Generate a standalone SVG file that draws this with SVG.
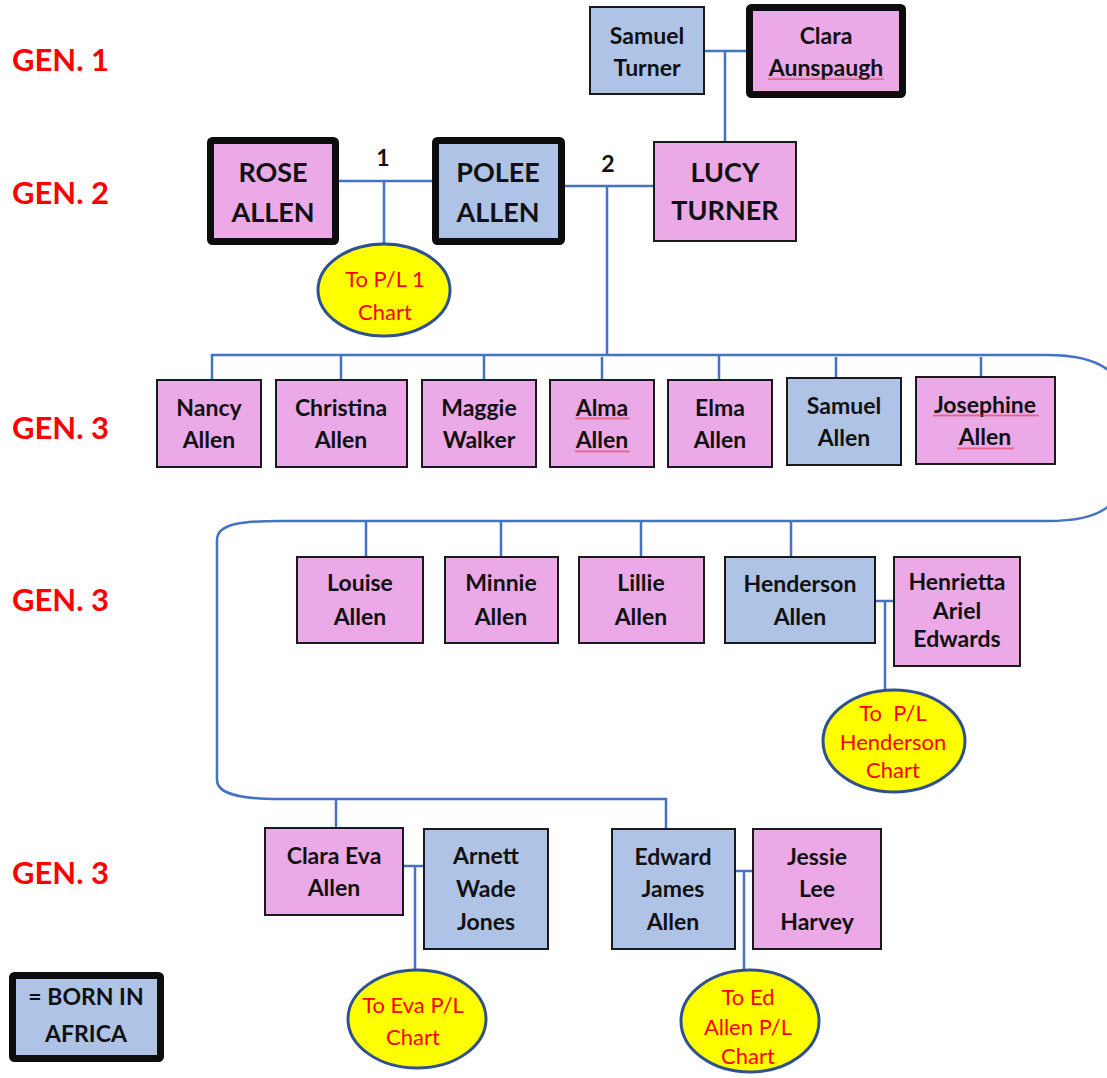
<svg xmlns="http://www.w3.org/2000/svg" width="1107" height="1078" viewBox="0 0 1107 1078">
  <defs>
    <pattern id="squiggle" width="4" height="3" patternUnits="userSpaceOnUse">
      <path d="M0 2.5 L1 0.5 L2 2.5 L3 0.5 L4 2.5" fill="none" stroke="#e03030" stroke-width="0.7"/>
    </pattern>
  </defs>
  <style>
    .f { stroke: #1a1a1a; stroke-width: 2; }
    .thick { stroke: #0d0d0d; stroke-width: 7; }
    .blue { fill: #aec3e5; }
    .pink { fill: #eba9e7; }
    .oval { fill: #ffff00; stroke: #2f528f; stroke-width: 3; }
    .t { font-family: Lato, "Open Sans", "Liberation Sans", sans-serif; font-weight: 700; fill: #111; text-anchor: middle; }
    .s22 { font-size: 23px; }
    .s28 { font-size: 27px; }
    .o { font-family: Lato, "Open Sans", "Liberation Sans", sans-serif; font-size: 22px; fill: #ff0000; text-anchor: middle; }
    .gen { font-family: Lato, "Open Sans", "Liberation Sans", sans-serif; font-weight: 700; font-size: 31px; fill: #ff0000; }
    .wire { fill: none; stroke: #4472c4; stroke-width: 2.5; }
    .sq { fill: url(#squiggle); opacity: 0.8; }
  </style>

  <rect width="1107" height="1078" fill="#ffffff"/>

  <!-- generation labels -->
  <g id="labels">
    <text class="gen" x="12" y="71">GEN. 1</text>
    <text class="gen" x="12" y="204">GEN. 2</text>
    <text class="gen" x="12" y="439">GEN. 3</text>
    <text class="gen" x="12" y="611">GEN. 3</text>
    <text class="gen" x="12" y="884">GEN. 3</text>
    <text class="t s22" x="383" y="166">1</text>
    <text class="t s22" x="608" y="172">2</text>
  </g>

  <!-- connectors -->
  <g id="connectors" class="wire">
    <path d="M704 51 H750 M725 51 V142"/>
    <path d="M339 181 H432 M384 181 V244"/>
    <path d="M565 186 H654 M607 186 V356"/>
    <path d="M212 380 V355 H1047"/>
    <path d="M341 355 V380 M484 355 V380 M602 357 V380 M719 355 V380 M836 357 V378 M981 357 V377"/>
    <path d="M1047 355 C1100 355 1132 370 1132 438 C1132 508 1100 521 1047 521 H280 C240 521 217 524 217 540 V780 C217 794 240 799 280 799 H666 V829"/>
    <path d="M366 521 V557 M501 521 V557 M641 521 V557 M791 521 V557"/>
    <path d="M875 601 H894 M885 601 V690"/>
    <path d="M336 799 V828"/>
    <path d="M403 866 H424 M415 866 V970"/>
    <path d="M735 871 H753 M744 871 V970"/>
  </g>

  <!-- generation 1 -->
  <g id="samuel-turner">
    <rect class="f blue" x="590" y="7" width="114" height="87"/>
    <text class="t s22" x="647" y="44">Samuel</text>
    <text class="t s22" x="647" y="76">Turner</text>
  </g>
  <g id="clara-aunspaugh">
    <rect class="thick pink" x="749.5" y="7.5" width="153" height="87" rx="2"/>
    <text class="t s22" x="826" y="44">Clara</text>
    <text class="t s22" x="826" y="76">Aunspaugh</text>
    <rect class="sq" x="768" y="77" width="116" height="3"/>
  </g>

  <!-- generation 2 -->
  <g id="rose-allen">
    <rect class="thick pink" x="210.5" y="140.5" width="125" height="101" rx="2"/>
    <text class="t s28" x="273" y="182">ROSE</text>
    <text class="t s28" x="273" y="222">ALLEN</text>
  </g>
  <g id="polee-allen">
    <rect class="thick blue" x="435.5" y="140.5" width="126" height="101" rx="2"/>
    <text class="t s28" x="498" y="182">POLEE</text>
    <text class="t s28" x="498" y="222">ALLEN</text>
  </g>
  <g id="lucy-turner">
    <rect class="f pink" x="654" y="142" width="142" height="99"/>
    <text class="t s28" x="725" y="182">LUCY</text>
    <text class="t s28" x="725" y="220">TURNER</text>
  </g>
  <g id="chart-pl1">
    <ellipse class="oval" cx="384" cy="290" rx="66" ry="46"/>
    <text class="o" x="385" y="287">To P/L 1</text>
    <text class="o" x="385" y="320">Chart</text>
  </g>

  <!-- generation 3, first row -->
  <g id="nancy-allen">
    <rect class="f pink" x="157" y="380" width="104" height="87"/>
    <text class="t s22" x="209" y="416">Nancy</text>
    <text class="t s22" x="209" y="448">Allen</text>
  </g>
  <g id="christina-allen">
    <rect class="f pink" x="276" y="380" width="131" height="87"/>
    <text class="t s22" x="341" y="416">Christina</text>
    <text class="t s22" x="341" y="448">Allen</text>
  </g>
  <g id="maggie-walker">
    <rect class="f pink" x="422" y="380" width="114" height="87"/>
    <text class="t s22" x="479" y="416">Maggie</text>
    <text class="t s22" x="479" y="448">Walker</text>
  </g>
  <g id="alma-allen">
    <rect class="f pink" x="550" y="380" width="104" height="87"/>
    <text class="t s22" x="602" y="416">Alma</text>
    <text class="t s22" x="602" y="448">Allen</text>
    <rect class="sq" x="575" y="417" width="55" height="3"/>
    <rect class="sq" x="575" y="450" width="55" height="3"/>
  </g>
  <g id="elma-allen">
    <rect class="f pink" x="668" y="380" width="104" height="87"/>
    <text class="t s22" x="720" y="416">Elma</text>
    <text class="t s22" x="720" y="448">Allen</text>
  </g>
  <g id="samuel-allen">
    <rect class="f blue" x="787" y="378" width="114" height="87"/>
    <text class="t s22" x="844" y="414">Samuel</text>
    <text class="t s22" x="844" y="446">Allen</text>
  </g>
  <g id="josephine-allen">
    <rect class="f pink" x="916" y="377" width="139" height="87"/>
    <text class="t s22" x="985" y="413">Josephine</text>
    <text class="t s22" x="985" y="445">Allen</text>
    <rect class="sq" x="933" y="414" width="106" height="3"/>
    <rect class="sq" x="957" y="447" width="57" height="3"/>
  </g>

  <!-- generation 3, second row -->
  <g id="louise-allen">
    <rect class="f pink" x="297" y="557" width="126" height="86"/>
    <text class="t s22" x="360" y="591">Louise</text>
    <text class="t s22" x="360" y="625">Allen</text>
  </g>
  <g id="minnie-allen">
    <rect class="f pink" x="445" y="557" width="113" height="86"/>
    <text class="t s22" x="501" y="591">Minnie</text>
    <text class="t s22" x="501" y="625">Allen</text>
  </g>
  <g id="lillie-allen">
    <rect class="f pink" x="579" y="557" width="125" height="86"/>
    <text class="t s22" x="641" y="591">Lillie</text>
    <text class="t s22" x="641" y="625">Allen</text>
  </g>
  <g id="henderson-allen">
    <rect class="f blue" x="725" y="557" width="150" height="86"/>
    <text class="t s22" x="800" y="592">Henderson</text>
    <text class="t s22" x="800" y="625">Allen</text>
  </g>
  <g id="henrietta-edwards">
    <rect class="f pink" x="894" y="557" width="126" height="109"/>
    <text class="t s22" x="957" y="590">Henrietta</text>
    <text class="t s22" x="957" y="619">Ariel</text>
    <text class="t s22" x="957" y="647">Edwards</text>
  </g>
  <g id="chart-henderson">
    <ellipse class="oval" cx="894" cy="741" rx="71" ry="51"/>
    <text class="o" x="893" y="721" xml:space="preserve">To  P/L</text>
    <text class="o" x="893" y="750">Henderson</text>
    <text class="o" x="893" y="778">Chart</text>
  </g>

  <!-- generation 3, third row -->
  <g id="clara-eva-allen">
    <rect class="f pink" x="265" y="828" width="138" height="87"/>
    <text class="t s22" x="334" y="864">Clara Eva</text>
    <text class="t s22" x="334" y="896">Allen</text>
  </g>
  <g id="arnett-wade-jones">
    <rect class="f blue" x="424" y="829" width="124" height="120"/>
    <text class="t s22" x="486" y="864">Arnett</text>
    <text class="t s22" x="486" y="897">Wade</text>
    <text class="t s22" x="486" y="930">Jones</text>
  </g>
  <g id="chart-eva">
    <ellipse class="oval" cx="417" cy="1019" rx="69" ry="49"/>
    <text class="o" x="413" y="1013">To Eva P/L</text>
    <text class="o" x="413" y="1045">Chart</text>
  </g>
  <g id="edward-james-allen">
    <rect class="f blue" x="612" y="829" width="123" height="120"/>
    <text class="t s22" x="673" y="865">Edward</text>
    <text class="t s22" x="673" y="897">James</text>
    <text class="t s22" x="673" y="930">Allen</text>
  </g>
  <g id="jessie-lee-harvey">
    <rect class="f pink" x="753" y="829" width="128" height="120"/>
    <text class="t s22" x="817" y="865">Jessie</text>
    <text class="t s22" x="817" y="897">Lee</text>
    <text class="t s22" x="817" y="930">Harvey</text>
  </g>
  <g id="chart-ed">
    <ellipse class="oval" cx="750" cy="1021" rx="69" ry="51"/>
    <text class="o" x="748" y="1005">To Ed</text>
    <text class="o" x="748" y="1035">Allen P/L</text>
    <text class="o" x="748" y="1064">Chart</text>
  </g>

  <!-- legend -->
  <g id="legend">
    <rect class="thick blue" x="12.5" y="975.5" width="148" height="83" rx="2"/>
    <text class="t s22" x="86" y="1005">= BORN IN</text>
    <text class="t s22" x="86" y="1042">AFRICA</text>
  </g>
</svg>
